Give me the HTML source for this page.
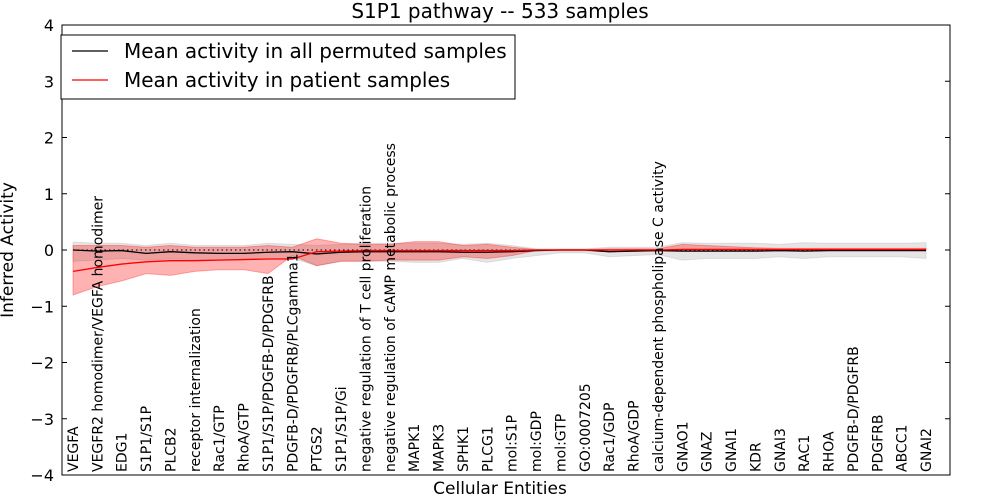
<!DOCTYPE html>
<html><head><meta charset="utf-8"><style>
body{margin:0;background:#fff;font-family:"DejaVu Sans","Liberation Sans",sans-serif}
svg text{font-family:"DejaVu Sans","Liberation Sans",sans-serif}
</style></head><body>
<svg id="chart" width="1000" height="500" viewBox="0 0 1000 500"></svg>
<script>
const categories=["VEGFA","VEGFR2 homodimer/VEGFA homodimer","EDG1","S1P1/S1P","PLCB2","receptor internalization","Rac1/GTP","RhoA/GTP","S1P1/S1P/PDGFB-D/PDGFRB","PDGFB-D/PDGFRB/PLCgamma1","PTGS2","S1P1/S1P/Gi","negative regulation of T cell proliferation","negative regulation of cAMP metabolic process","MAPK1","MAPK3","SPHK1","PLCG1","mol:S1P","mol:GDP","mol:GTP","GO:0007205","Rac1/GDP","RhoA/GDP","calcium-dependent phospholipase C activity","GNAO1","GNAZ","GNAI1","KDR","GNAI3","RAC1","RHOA","PDGFB-D/PDGFRB","PDGFRB","ABCC1","GNAI2"];
const permMean=[0,-0.02,-0.01,-0.06,-0.03,-0.05,-0.06,-0.06,-0.04,-0.03,-0.07,-0.04,-0.03,-0.03,-0.03,-0.03,-0.04,-0.04,-0.03,-0.01,0,0,-0.03,-0.02,-0.01,-0.02,-0.02,-0.02,-0.02,-0.01,-0.02,-0.01,-0.01,-0.01,-0.01,-0.01];
const permLow=[-0.2,-0.18,-0.15,-0.18,-0.16,-0.17,-0.17,-0.17,-0.16,-0.15,-0.28,-0.2,-0.2,-0.2,-0.22,-0.22,-0.15,-0.22,-0.15,-0.1,-0.05,-0.05,-0.12,-0.1,-0.08,-0.18,-0.15,-0.15,-0.15,-0.12,-0.15,-0.12,-0.12,-0.12,-0.12,-0.15];
const permHigh=[0.14,0.12,0.12,0.08,0.12,0.08,0.08,0.08,0.12,0.1,0.08,0.1,0.12,0.12,0.12,0.12,0.1,0.12,0.08,0.02,0.02,0.02,0.05,0.05,0.05,0.13,0.12,0.12,0.12,0.1,0.13,0.12,0.12,0.12,0.12,0.13];
const patMean=[-0.38,-0.31,-0.25,-0.21,-0.19,-0.19,-0.18,-0.17,-0.16,-0.16,-0.03,-0.02,-0.01,-0.01,-0.01,-0.01,-0.01,-0.01,-0.01,0,0,0,0,0,0,0.01,0.01,0.01,0.01,0.01,0.01,0.01,0.01,0.01,0.01,0.01];
const patLow=[-0.8,-0.65,-0.55,-0.42,-0.45,-0.38,-0.35,-0.35,-0.42,-0.1,-0.28,-0.2,-0.2,-0.18,-0.18,-0.18,-0.12,-0.15,-0.1,-0.01,-0.01,-0.01,-0.03,-0.02,-0.01,-0.02,-0.02,-0.01,-0.01,-0.01,-0.01,0,0,0,0,0];
const patHigh=[0.08,0.08,0.08,0.05,0.08,0.05,0.05,0.05,0.08,0.05,0.2,0.12,0.1,0.1,0.15,0.15,0.08,0.1,0.05,0.01,0.01,0.01,0.02,0.02,0.02,0.1,0.08,0.06,0.04,0.03,0.03,0.03,0.03,0.03,0.03,0.03];
const yTicks=[4,3,2,1,0,-1,-2,-3,-4];

const svg=document.getElementById('chart');
const NS='http://www.w3.org/2000/svg';
const L=62,R=950,T=25,B=475;
const x=i=>73+i*(926-73)/(categories.length-1);
const y=v=>T+(4-v)*(B-T)/8;
function mk(t,a){const e=document.createElementNS(NS,t);for(const k in a)e.setAttribute(k,a[k]);svg.appendChild(e);return e;}
function band(lo,hi,fill,op,name){
  let d='M'+lo.map((v,i)=>x(i)+','+y(v)).join(' L');
  for(let i=hi.length-1;i>=0;i--)d+=' L'+x(i)+','+y(hi[i]);
  const e=mk('path',{d:d+'Z',fill:fill,'fill-opacity':op,stroke:fill,'stroke-opacity':op});
  
  
}
function line(vals,col,name){
  const e=mk('polyline',{points:vals.map((v,i)=>x(i)+','+y(v)).join(' '),fill:'none',stroke:col,'stroke-width':1.3});
  
  
}
band(permLow,permHigh,'#aaaaaa',0.3,'permuted-band');
band(patLow,patHigh,'#ff0000',0.3,'patient-band');
const z=mk('line',{x1:x(0),x2:x(categories.length-1),y1:y(0),y2:y(0),stroke:'#000','stroke-dasharray':'1.5,3'});


line(permMean,'#000','permuted-mean-line');
line(patMean,'#ff0000','patient-mean-line');
categories.forEach((c,i)=>{
  const t=mk('text',{x:0,y:0,transform:`translate(${x(i)+5},472) rotate(-90)`,'font-size':14});
  t.textContent=c;
  
  
});
const fr=mk('rect',{x:L,y:T,width:R-L,height:B-T,fill:'none',stroke:'#000'});


yTicks.forEach(v=>{
  mk('line',{x1:L,x2:L+5,y1:y(v),y2:y(v),stroke:'#000'});
  mk('line',{x1:R-5,x2:R,y1:y(v),y2:y(v),stroke:'#000'});
  const t=mk('text',{x:L-8,y:y(v)+6,'text-anchor':'end','font-size':16});
  t.textContent=v<0?'\u2212'+(-v):v;
  
  
});
</script>
<svg style="position:absolute;left:0;top:0" width="1000" height="500">
<text x="500" y="18" text-anchor="middle" font-size="20">S1P1 pathway -- 533 samples</text>
<text x="500" y="494" text-anchor="middle" font-size="17">Cellular Entities</text>
<text transform="translate(13,250) rotate(-90)" text-anchor="middle" font-size="17">Inferred Activity</text>
<g>
<rect x="61" y="35" width="454" height="64" fill="#fff" stroke="#000"/>
<line x1="72" x2="108" y1="51" y2="51" stroke="#000" stroke-width="1.3"/>
<text x="124" y="58" font-size="20">Mean activity in all permuted samples</text>
<line x1="72" x2="108" y1="80" y2="80" stroke="#f00" stroke-width="1.3"/>
<text x="124" y="87" font-size="20">Mean activity in patient samples</text>
</g>
</svg>
</body></html>
